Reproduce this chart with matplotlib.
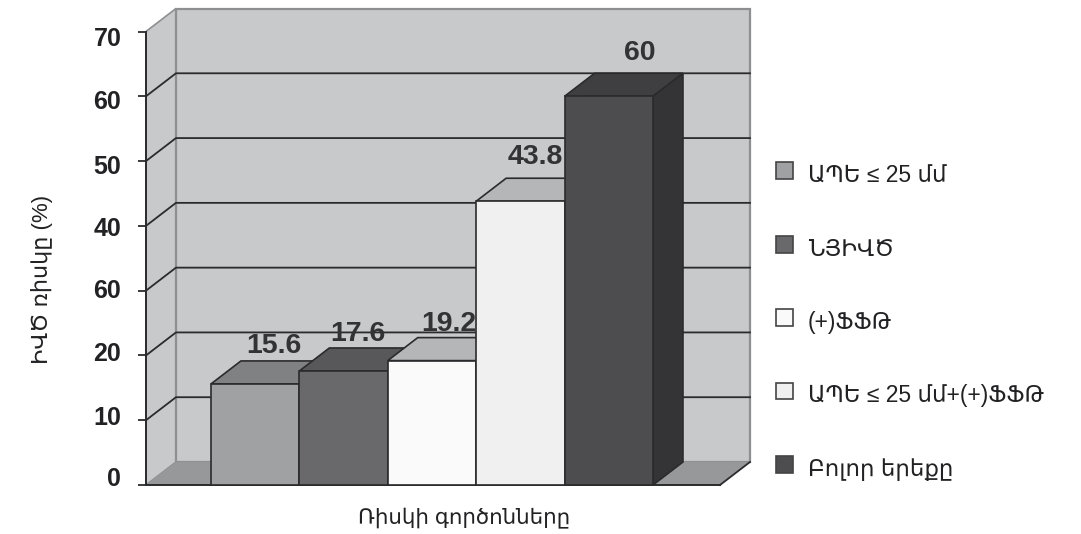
import matplotlib

matplotlib.use('Agg')
import matplotlib.pyplot as plt
from matplotlib.patches import Patch
from matplotlib.transforms import ScaledTranslation

FONTS = ['Liberation Sans', 'DejaVu Sans']
plt.rcParams['font.family'] = FONTS

# === Данные ===
categories = ['ԱՊԵ ≤ 25 մմ', 'ՆՅԻՎԾ', '(+)ՖՖԹ', 'ԱՊԵ ≤ 25 մմ+(+)ՖՖԹ', 'Բոլոր երեքը']
values = [15.6, 17.6, 19.2, 43.8, 60]
value_labels = ['15.6', '17.6', '19.2', '43.8', '60']
y_ticks = [0, 10, 20, 30, 40, 50, 60, 70]
y_tick_labels = ['0', '10', '20', '60', '40', '50', '60', '70']
y_title = 'ԻՎԾ ռիսկը (%)'
x_title = 'Ռիսկի գործոնները'

# === Оформление ===
face_colors = ['#a0a1a3', '#69696b', '#fafafa', '#f0f0f0', '#4d4d4f']
top_colors = ['#808183', '#58585a', '#b5b6b8', '#b5b6b8', '#3f3f41']
side_colors = ['#808183', '#4d4d4f', '#b5b6b8', '#b5b6b8', '#343335']
label_shift = [(19, 38), (14, 37), (17, 37), (15, 44), (31, 43)]
tick_label_shift = [8, 5, 4, 2, -1, -3, -3, -5]
WALL = '#c8c9cb'
FLOOR = '#97989a'
WALL_EDGE = '#8e8f91'
DARK = '#2b2a2c'

# Размеры в единицах осей: ширина столбца = 1
x_left, x_right = -1.235, 5.258
depth_x = 0.339
depth_y = 3.55
bar_w = 1.0

W, H = 1081, 534
fig = plt.figure(figsize=(W / 100, H / 100), dpi=100)
ax = fig.add_axes([146 / W, (H - 485) / H, (720 - 146) / W, (485 - 31.5) / H])
ax.set_xlim(x_left, x_right)
ax.set_ylim(0, 70)
ax.patch.set_visible(False)
ax.spines['top'].set_visible(False)
ax.spines['right'].set_visible(False)
for side in ['left', 'bottom']:
    ax.spines[side].set_linewidth(1.4)
    ax.spines[side].set_color(DARK)
    ax.spines[side].set_zorder(6)

top = y_ticks[-1]
back_l, back_r = x_left + depth_x, x_right + depth_x

# Стены и пол
ax.fill([x_left, back_l, back_l, x_left], [0, depth_y, top + depth_y, top],
        fc=WALL, ec=WALL_EDGE, lw=1.2, clip_on=False, zorder=1)
ax.fill([back_l, back_r, back_r, back_l], [depth_y, depth_y, top + depth_y, top + depth_y],
        fc=WALL, ec=WALL_EDGE, lw=1.6, clip_on=False, zorder=1)
ax.fill([x_left, x_right, back_r, back_l], [0, 0, depth_y, depth_y],
        fc=FLOOR, ec='none', clip_on=False, zorder=2)
ax.plot([x_right, back_r], [0, depth_y], color=DARK, lw=1.3, clip_on=False, zorder=2)

# Линии сетки на задней и левой стенках
for v in y_ticks[1:-1]:
    ax.plot([x_left, back_l, back_r], [v, v + depth_y, v + depth_y],
            color=DARK, lw=1.3, clip_on=False, zorder=3)

# Столбцы по порядку: следующий перекрывает предыдущий вместе с подписью
for i, v in enumerate(values):
    z = 10 + i * 2
    left = i - bar_w / 2
    right = i + bar_w / 2
    ax.bar(i, v, width=bar_w, color=face_colors[i], edgecolor=DARK, linewidth=1.2,
           zorder=z + 0.5, clip_on=False)
    ax.fill([left, right, right + depth_x, left + depth_x], [v, v, v + depth_y, v + depth_y],
            fc=top_colors[i], ec=DARK, lw=1.2, clip_on=False, zorder=z)
    ax.fill([right, right + depth_x, right + depth_x, right], [0, depth_y, v + depth_y, v],
            fc=side_colors[i], ec=DARK, lw=1.2, clip_on=False, zorder=z)
    ax.annotate(value_labels[i], xy=(i, v), xytext=(label_shift[i][0] * 0.72, label_shift[i][1] * 0.72),
                textcoords='offset points', ha='center', va='center', fontsize=20.5,
                fontweight='bold', color='#333335', zorder=z + 1, annotation_clip=False)

ax.set_xticks([])
ax.set_yticks(y_ticks)
ax.set_yticklabels(y_tick_labels, fontsize=18, fontweight='bold', color='#222224')
ax.tick_params(axis='y', length=5.8, width=1.3, color=DARK, pad=12)
# Подписи оси идут чуть плотнее делений
for lab, shift in zip(ax.get_yticklabels(), tick_label_shift):
    lab.set_transform(lab.get_transform() + ScaledTranslation(0, shift / 100, fig.dpi_scale_trans))

ax.set_ylabel(y_title, fontsize=16, color='#222224', va='center')
ax.yaxis.set_label_coords(42 / W, 1 - 279 / H, transform=fig.transFigure)
ax.set_xlabel(x_title, fontsize=15.4, color='#222224', va='center')
ax.xaxis.set_label_coords(464 / W, 1 - 518 / H, transform=fig.transFigure)

# Легенда
handles = [Patch(fc=c, ec='#444446', lw=1.2) for c in face_colors]
legend = fig.legend(handles, categories, loc='center left', bbox_to_anchor=(776 / W, 1 - 322.5 / H),
                    bbox_transform=fig.transFigure, frameon=False, fontsize=16.5, labelcolor='#222224',
                    handlelength=0.75, handleheight=0.75, handletextpad=0.65, labelspacing=2.2,
                    borderpad=0, borderaxespad=0)
# Квадратики стоят немного выше текста
for patch in legend.get_patches():
    patch.set_y(patch.get_y() + 2.5)

fig.savefig('out.png', dpi=100)
